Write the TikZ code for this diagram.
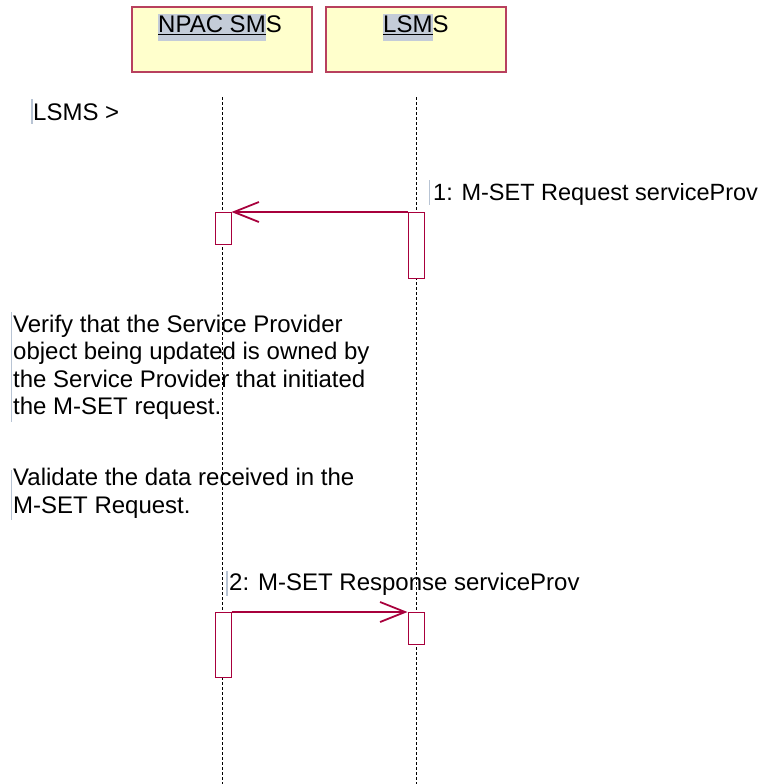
\documentclass[tikz,border=0pt]{standalone}
\usepackage{fontspec}
\setmainfont{Liberation Sans}
\usetikzlibrary{arrows.meta}
\definecolor{hdrfill}{HTML}{FFFFCC}
\definecolor{hdrline}{HTML}{B8405E}
\definecolor{msgcol}{HTML}{A8003C}
\definecolor{hlcol}{HTML}{C4CCD8}
\definecolor{barcol}{HTML}{B8C4D4}
\newcommand{\hlpart}[1]{{\setlength{\fboxsep}{0pt}\colorbox{hlcol}{\strut\underline{#1}}}}
\begin{document}
\begin{tikzpicture}[x=1pt,y=-1pt,
  hdr/.style={draw=hdrline,fill=hdrfill,line width=1.1pt,minimum width=180pt,minimum height=65pt,inner sep=0pt},
  hdrtext/.style={anchor=base west,inner sep=0pt,font=\fontsize{24}{27}\selectfont},
  life/.style={draw=black,line width=0.7pt,dash pattern=on 3pt off 2pt},
  actbox/.style={draw=msgcol,fill=white,line width=1pt,minimum width=16pt,inner sep=0pt,anchor=north},
  msgline/.style={draw=msgcol,line width=1.3pt,-{Straight Barb[length=25pt,width=20pt,line width=1.8pt]}},
  txt/.style={anchor=base west,inner sep=0pt,align=left,font=\fontsize{24}{27.5}\selectfont},
  tbar/.style={draw=barcol,line width=1.2pt}
]
\useasboundingbox (0,0) rectangle (763,784);
% header boxes
\node[hdr] (npac) at (222,39.5) {};
\node[hdr] (lsms) at (416,39.5) {};
\node[hdrtext] (npacl) at (158,33) {\hlpart{NPAC SM}S};
\node[hdrtext] (lsmsl) at (383,33) {\hlpart{LSM}S};
% lifelines
\coordinate (npTop) at (222,97);
\coordinate (npBot) at (222,784);
\coordinate (lsTop) at (416,97);
\coordinate (lsBot) at (416,784);
\draw[life] (npTop) -- (npBot);
\draw[life] (lsTop) -- (lsBot);
% activation boxes
\node[actbox,minimum height=32pt] (np1) at (223,212) {};
\node[actbox,minimum height=66pt] (ls1) at (416,212) {};
\node[actbox,minimum height=65pt] (np2) at (223,612) {};
\node[actbox,minimum height=32pt] (ls2) at (416,612) {};
% messages
\draw[msgline] (ls1.north west) -- (np1.north east);
\draw[msgline] (np2.north east) -- (ls2.north west);
% texts
\node[txt] (t0) at (33,120) {LSMS >};
\draw[tbar] (32,99) -- (32,124);
\node[txt,font=\fontsize{23.5}{27.5}\selectfont] (t1) at (433,200) {1: M-SET Request serviceProv};
\draw[tbar] (429.5,180) -- (429.5,205);
\node[txt] (t2) at (13,414.5) {Verify that the Service Provider\\object being updated is owned by\\the Service Provider that initiated\\the M-SET request.};
\draw[tbar] (11.5,312) -- (11.5,422);
\node[txt] (t3) at (13,513) {Validate the data received in the\\M-SET Request.};
\draw[tbar] (11.5,470) -- (11.5,520);
\node[txt] (t4) at (229,590) {2: M-SET Response serviceProv};
\draw[tbar] (227,571) -- (227,596);
\end{tikzpicture}
\end{document}
